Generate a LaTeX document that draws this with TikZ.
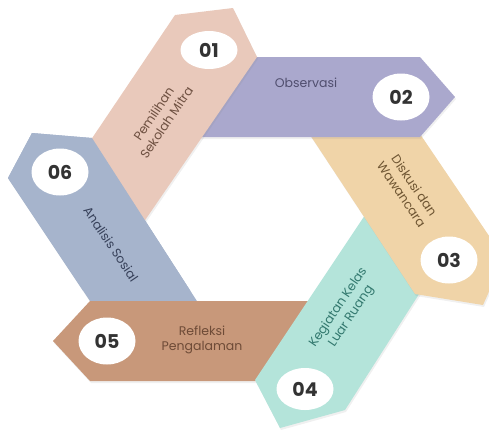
\documentclass[tikz,border=0pt]{standalone}
\usepackage{fontspec}
\setmainfont{Poppins}
\usepackage{tikz}
\usetikzlibrary{shapes.geometric,shadows}

\definecolor{pinkband}{RGB}{233,201,187}
\definecolor{lilacband}{RGB}{170,168,205}
\definecolor{sandband}{RGB}{240,212,168}
\definecolor{mintband}{RGB}{180,228,218}
\definecolor{clayband}{RGB}{200,152,122}
\definecolor{slateband}{RGB}{166,180,204}

% outlines of the six bands, in pixel units
\newcommand\bandone{(74,165) -- (175,15) -- (233,8) -- (257,57) -- (128,245) -- cycle}
\newcommand\bandtwo{(225,57) -- (420,57) -- (455,97) -- (420,137) -- (170,137) -- cycle}
\newcommand\bandthree{(287,100) -- (397,100) -- (504,258) -- (483,305) -- (415,294) -- cycle}
\newcommand\bandfour{(375,200) -- (428,280) -- (345,410) -- (280,428) -- (255,380) -- cycle}
\newcommand\bandfive{(350,301) -- (90,301) -- (53,341) -- (90,381) -- (300,381) -- cycle}
\newcommand\bandsix{(116,340) -- (8,178) -- (32,133) -- (92,138) -- (222,340) -- cycle}

\begin{document}
\begin{tikzpicture}[
		x=1pt, y=-1pt
		,band/.style={drop shadow={shadow xshift=1pt, shadow yshift=-2pt, opacity=.12}}
		,num/.style={ellipse, fill=white, inner sep=0pt, minimum width=57pt, minimum height=47pt
			, text=black!80, font=\bfseries\fontsize{19}{19}\selectfont}
		,flat/.style={minimum height=38pt}
		,lbl/.style={align=center, font=\fontsize{12.5}{15.5}\selectfont}
	]
	\clip (0,0) rectangle (489,429);
	\fill[band, slateband] \bandsix;
	\fill[band, clayband] \bandfive;
	\fill[band, mintband] \bandfour;
	\fill[band, sandband] \bandthree;
	\fill[band, lilacband] \bandtwo;
	\fill[band, pinkband] \bandone;
	% front of band 06 lies over the tail of band 01
	\begin{scope}
		\clip (0,120) rectangle (250,290);
		\fill[slateband] \bandsix;
	\end{scope}

	\node [num, flat] (n1) at (209,50) {01};
	\node [num] (n2) at (401,97) {02};
	\node [num] (n3) at (449,260) {03};
	\node [num, minimum height=42pt] (n4) at (305,389) {04};
	\node [num] (n5) at (107,341) {05};
	\node [num] (n6) at (60,172) {06};

	\node [lbl, rotate=56, text={rgb,255:red,110;green,80;blue,65}] (l1) at (160,118) {Pemilihan\\Sekolah Mitra};
	\node [lbl, text={rgb,255:red,80;green,78;blue,110}] (l2) at (306,83) {Observasi};
	\node [lbl, rotate=-56, text={rgb,255:red,110;green,85;blue,50}] (l3) at (408,190) {Diskusi dan\\Wawancara};
	\node [lbl, rotate=56, text={rgb,255:red,50;green,120;blue,110}] (l4) at (345,312) {Kegiatan Kelas\\Luar Ruang};
	\node [lbl, text={rgb,255:red,110;green,75;blue,55}] (l5) at (202,340) {Refleksi\\Pengalaman};
	\node [lbl, rotate=-56, text={rgb,255:red,55;green,65;blue,90}] (l6) at (111,244) {Analisis Sosial};
\end{tikzpicture}
\end{document}
